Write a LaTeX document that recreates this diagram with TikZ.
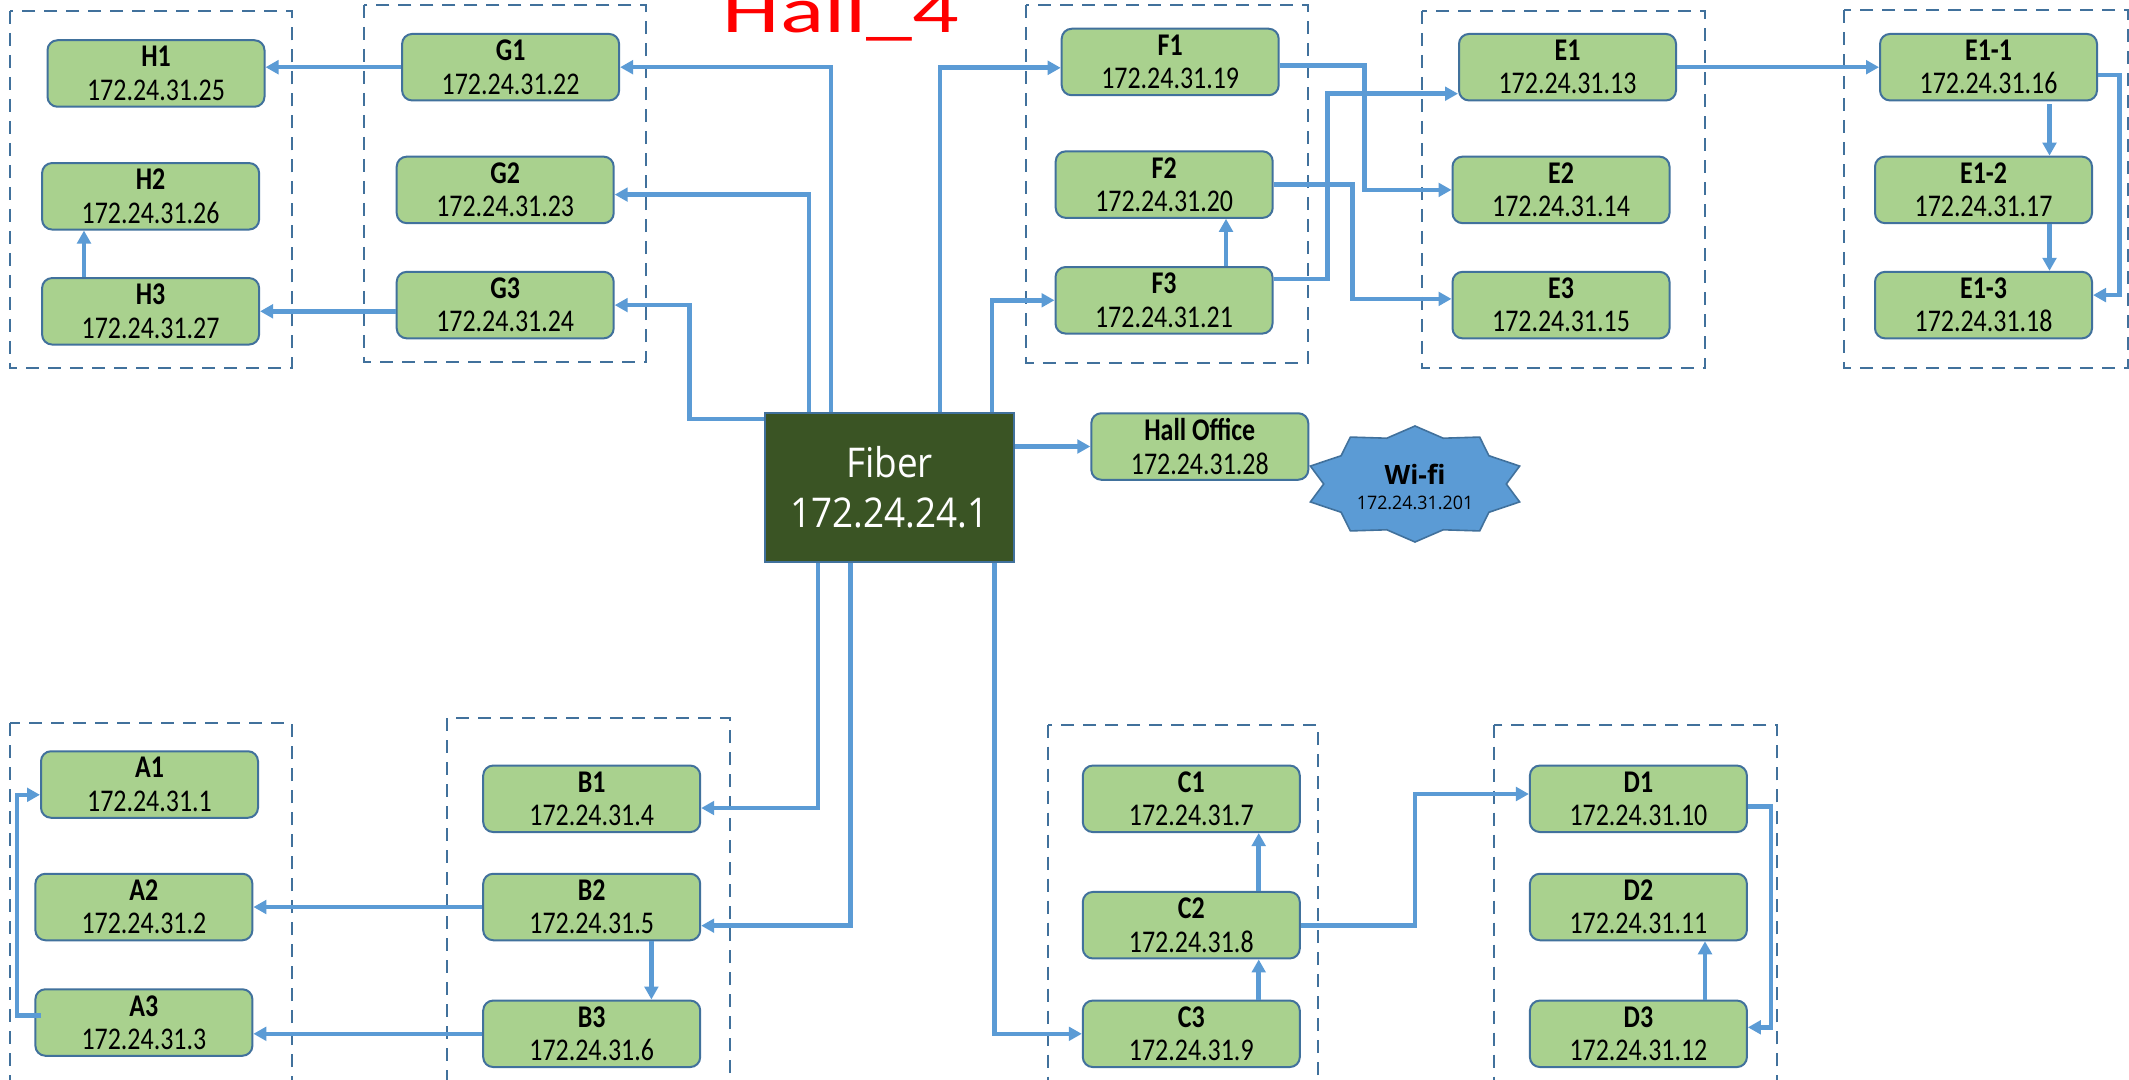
\documentclass[tikz,border=0pt]{standalone}
\usepackage{fontspec}
\setmainfont{Carlito}
\newfontfamily\osans{Open Sans}
\usetikzlibrary{arrows.meta,calc}
\definecolor{lblue}{HTML}{5B9BD5}
\definecolor{bord}{HTML}{41719C}
\definecolor{boxg}{HTML}{A9D18E}
\definecolor{fibg}{HTML}{3A5424}
\newcommand\lbl[2]{\scalebox{0.82}[1]{\bfseries #1}\\\scalebox{0.82}[1]{#2}}
\tikzset{
  dev/.style={draw=bord, fill=boxg, rounded corners=5pt, line width=1pt,
    minimum width=108.5pt, minimum height=33.25pt, inner sep=0pt, align=center,
    font=\fontsize{15.8pt}{16.65pt}\selectfont},
  conn/.style={draw=lblue, line width=2.3pt, -{Triangle[length=6.5pt,width=6.8pt]}},
  grp/.style={draw=bord, line width=1pt, dash pattern=on 6.5pt off 4.5pt},
}
\begin{document}
\begin{tikzpicture}[x=0.5pt,y=-0.5pt]
\clip (0,0) rectangle (2129,1080);
\fill[white] (0,0) rectangle (2129,1080);
% groups
\draw[grp] (9.5,11) rectangle (291.8,368.5);
\draw[grp] (363.7,4.8) rectangle (646,362.3);
\draw[grp] (1026,5.5) rectangle (1308.3,362.6);
\draw[grp] (1422.3,11) rectangle (1705.2,368.5);
\draw[grp] (1844.4,10.3) rectangle (2127.5,368.5);
\draw[grp] (9.5,723.2) rectangle (291.8,1095);
\draw[grp] (446.5,718) rectangle (729.5,1095);
\draw[grp] (1048.2,724.6) rectangle (1317.8,1095);
\draw[grp] (1493.5,724.6) rectangle (1776.5,1095);
% title
\node[anchor=base, text=red, font=\fontsize{46pt}{46pt}\selectfont, inner sep=0pt] (title) at (841,33) {\scalebox{1}[0.7]{Hall\_4}};
% nodes
\node[dev] (H1) at (156,73.5) {\lbl{H1}{172.24.31.25}};
\node[dev] (H2) at (150.6,196.3) {\lbl{H2}{172.24.31.26}};
\node[dev] (H3) at (150.6,311.3) {\lbl{H3}{172.24.31.27}};
\node[dev] (G1) at (510.6,67.2) {\lbl{G1}{172.24.31.22}};
\node[dev] (G2) at (505.2,189.9) {\lbl{G2}{172.24.31.23}};
\node[dev] (G3) at (505.2,305.1) {\lbl{G3}{172.24.31.24}};
\node[dev] (F1) at (1170.2,62) {\lbl{F1}{172.24.31.19}};
\node[dev] (F2) at (1164.2,184.6) {\lbl{F2}{172.24.31.20}};
\node[dev] (F3) at (1164,300.3) {\lbl{F3}{172.24.31.21}};
\node[dev] (E1) at (1567.5,67.2) {\lbl{E1}{172.24.31.13}};
\node[dev] (E2) at (1561,189.9) {\lbl{E2}{172.24.31.14}};
\node[dev] (E3) at (1561,305.1) {\lbl{E3}{172.24.31.15}};
\node[dev] (E11) at (1988.5,67.2) {\lbl{E1-1}{172.24.31.16}};
\node[dev] (E12) at (1983.5,189.9) {\lbl{E1-2}{172.24.31.17}};
\node[dev] (E13) at (1983.5,305.1) {\lbl{E1-3}{172.24.31.18}};
\node[dev] (Hall) at (1199.8,446.5) {\lbl{Hall Office}{172.24.31.28}};
\node[dev] (A1) at (149.5,784.5) {\lbl{A1}{172.24.31.1}};
\node[dev] (A2) at (143.9,907) {\lbl{A2}{172.24.31.2}};
\node[dev] (A3) at (143.9,1022.5) {\lbl{A3}{172.24.31.3}};
\node[dev] (B1) at (591.7,798.8) {\lbl{B1}{172.24.31.4}};
\node[dev] (B2) at (591.7,907) {\lbl{B2}{172.24.31.5}};
\node[dev] (B3) at (591.7,1033.8) {\lbl{B3}{172.24.31.6}};
\node[dev] (C1) at (1191.3,798.8) {\lbl{C1}{172.24.31.7}};
\node[dev] (C2) at (1191.3,925.2) {\lbl{C2}{172.24.31.8}};
\node[dev] (C3) at (1191.3,1033.8) {\lbl{C3}{172.24.31.9}};
\node[dev] (D1) at (1638.4,798.8) {\lbl{D1}{172.24.31.10}};
\node[dev] (D2) at (1638.4,907) {\lbl{D2}{172.24.31.11}};
\node[dev] (D3) at (1638.4,1033.8) {\lbl{D3}{172.24.31.12}};
\node[draw=bord, fill=fibg, line width=1pt, minimum width=124.5pt, minimum height=74.8pt,
  inner sep=0pt, text=white, align=center, font=\osans\fontsize{20.5pt}{25pt}\selectfont]
  (fiber) at (889.5,487.5) {\scalebox{0.9}[1]{Fiber}\\\scalebox{0.9}[1]{172.24.24.1}};
% helper coordinates
\coordinate (xg1) at (831,0);
\coordinate (xg2) at (809,0);
\coordinate (xg3) at (689.4,0);
\coordinate (yg3) at (0,419);
\coordinate (xf1) at (940,0);
\coordinate (xf3) at (992,0);
\coordinate (xb1) at (818,0);
\coordinate (xb2) at (850.5,0);
\coordinate (xc3) at (994.5,0);
\coordinate (xh) at (84,0);
\coordinate (xe2) at (1364.6,0);
\coordinate (xe1) at (1327.3,0);
\coordinate (xe3) at (1352.4,0);
\coordinate (xf32) at (1226,0);
\coordinate (xe11) at (2049.5,0);
\coordinate (xe13) at (2119.5,0);
\coordinate (xb23) at (651.4,0);
\coordinate (xa) at (17,0);
\coordinate (xc) at (1258.7,0);
\coordinate (xd1) at (1414.8,0);
\coordinate (xd3) at (1771,0);
\coordinate (xd) at (1705,0);
\coordinate (g2in) at ([yshift=-2.35pt]G2.east);
\coordinate (f1in) at ([yshift=-2.9pt]F1.west);
\coordinate (f1out) at ([yshift=-1.7pt]F1.east);
\coordinate (f3out) at ([yshift=10.6pt]F3.east);
\coordinate (e1in) at ([yshift=-13.25pt]E1.west);
\coordinate (e3in) at ([yshift=3.1pt]E3.west);
\coordinate (e11out) at ([yshift=-3.9pt]E11.east);
\coordinate (e13in) at ([yshift=5pt]E13.east);
\coordinate (b1in) at ([yshift=-4.6pt]B1.east);
\coordinate (b2in) at ([yshift=-9.35pt]B2.east);
\coordinate (a3out) at ([xshift=3.3pt,yshift=3.65pt]A3.west);
\coordinate (a1in) at ([yshift=-5.15pt]A1.west);
\coordinate (d1in) at ([yshift=2.4pt]D1.west);
\coordinate (d1out) at ([yshift=-3.7pt]D1.east);
\coordinate (d3in) at ([yshift=3.25pt]D3.east);
% connectors from fiber
\draw[conn] (fiber.north -| xg1) |- (G1.east);
\draw[conn] (fiber.north -| xg2) |- (g2in);
\draw[conn] (fiber.west |- yg3) -| (G3.east -| xg3) -- (G3.east);
\draw[conn] (fiber.north -| xf1) |- (f1in);
\draw[conn] (fiber.north -| xf3) |- (F3.west);
\draw[conn] (fiber.east |- Hall.west) -- (Hall.west);
\draw[conn] (fiber.south -| xb1) |- (b1in);
\draw[conn] (fiber.south -| xb2) |- (b2in);
\draw[conn] (fiber.south -| xc3) |- (C3.west);
% top-left
\draw[conn] (G1.west) -- (G1.west -| H1.east);
\draw[conn] (H3.east -| G3.west) -- (H3.east);
\draw[conn] (H3.north -| xh) -- (H2.south -| xh);
% top-right
\draw[conn] (f1out) -| (E2.west -| xe2) -- (E2.west);
\draw[conn] (f3out) -| (e1in -| xe1) -- (e1in);
\draw[conn] (F2.east) -| (e3in -| xe3) -- (e3in);
\draw[conn] (F3.north -| xf32) -- (F2.south -| xf32);
\draw[conn] (E1.east) -- (E11.west);
\draw[conn] ($(E11.south -| xe11)+(0,3)$) -- (E12.north -| xe11);
\draw[conn] (E12.south -| xe11) -- (E13.north -| xe11);
\draw[conn] (e11out) -| (e13in -| xe13) -- (e13in);
% bottom-left
\draw[conn] (B2.west) -- (A2.east);
\draw[conn] (B3.west) -- (B3.west -| A3.east);
\draw[conn] (B2.south -| xb23) -- (B3.north -| xb23);
\draw[conn] (a3out) -| (a1in -| xa) -- (a1in);
% bottom-right
\draw[conn] (C3.north -| xc) -- (C2.south -| xc);
\draw[conn] (C2.north -| xc) -- (C1.south -| xc);
\draw[conn] (C2.east) -| (d1in -| xd1) -- (d1in);
\draw[conn] (d1out) -| (d3in -| xd3) -- (d3in);
\draw[conn] (D3.north -| xd) -- (D2.south -| xd);
% wifi star
\draw[fill=lblue, draw=bord, line width=0.8pt] (1415,426)
  \foreach \k in {1,...,19} { -- ({1415+110*(1-0.17*mod(\k,2))*cos(90+18*\k)}, {484-58*(1-0.17*mod(\k,2))*sin(90+18*\k)}) } -- cycle;
\node[anchor=base, inner sep=0pt, font=\osans\bfseries\fontsize{13.3pt}{13.3pt}\selectfont] (wifi) at (1415,484) {Wi-fi};
\node[anchor=base, inner sep=0pt, font=\osans\fontsize{9.3pt}{9.3pt}\selectfont] (wifiip) at (1415,509.3) {\scalebox{0.96}[1]{172.24.31.201}};
\end{tikzpicture}
\end{document}
